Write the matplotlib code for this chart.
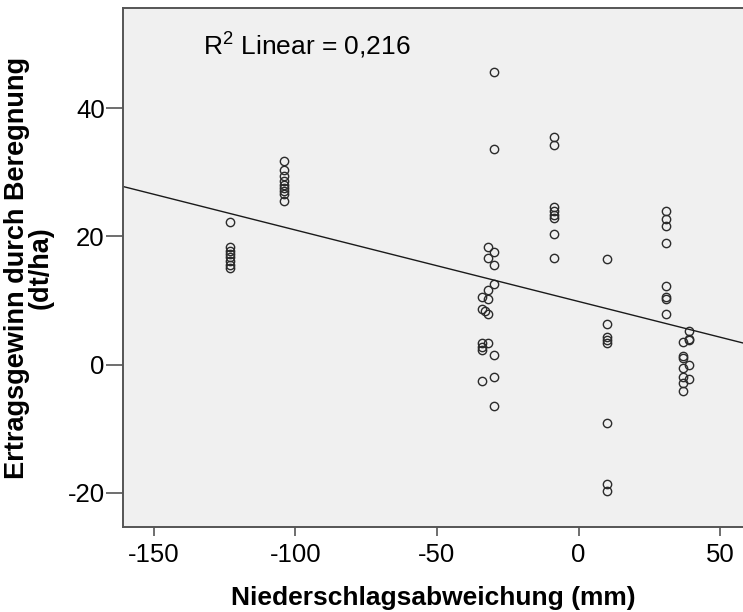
import numpy as np
import matplotlib
matplotlib.use('Agg')
import matplotlib.pyplot as plt

plt.rcParams['font.family'] = ['Liberation Sans', 'DejaVu Sans']
plt.rcParams['mathtext.default'] = 'regular'

# Niederschlagsabweichung (mm) -> Ertragsgewinn (dt/ha)
x_m123 = [-123] * 8
y_m123 = [22.2, 18.4, 17.8, 17.3, 16.8, 16.2, 15.6, 15.0]
x_m104 = [-104] * 9
y_m104 = [31.8, 30.4, 29.4, 28.7, 28.1, 27.6, 27.1, 26.6, 25.6]
x_m34 = [-34] * 6
y_m34 = [10.5, 8.6, 3.4, 2.8, 2.2, -2.5]
x_m33 = [-33]
y_m33 = [8.3]
x_m32 = [-32] * 6
y_m32 = [18.4, 16.6, 11.7, 10.3, 7.9, 3.3]
x_m30 = [-30] * 8
y_m30 = [45.7, 33.6, 17.6, 15.6, 12.6, 1.5, -1.9, -6.4]
x_m8 = [-8.5] * 8
y_m8 = [35.5, 34.3, 24.6, 24.0, 23.4, 22.8, 20.3, 16.6]
x_10 = [10] * 8
y_10 = [16.5, 6.35, 4.3, 3.85, 3.3, -9.1, -18.6, -19.7]
x_31 = [31] * 8
y_31 = [23.9, 22.7, 21.6, 18.9, 12.2, 10.6, 10.2, 7.9]
x_37 = [37] * 7
y_37 = [3.6, 1.35, 1.0, -0.6, -1.9, -2.9, -4.2]
x_39 = [39] * 5
y_39 = [5.25, 4.0, 0.0, -2.3, 3.85]

xs = np.array(x_m123 + x_m104 + x_m34 + x_m33 + x_m32 + x_m30 + x_m8 + x_10 + x_31 + x_37 + x_39, float)
ys = np.array(y_m123 + y_m104 + y_m34 + y_m33 + y_m32 + y_m30 + y_m8 + y_10 + y_31 + y_37 + y_39, float)

xticks = [-150, -100, -50, 0, 50]
yticks = [-20, 0, 20, 40]
r2_text = 'R$^2$ Linear = 0,216'

fig = plt.figure(figsize=(7.43, 6.12), dpi=100)
ax = fig.add_axes([122.7 / 743, 1 - 526.7 / 612, 1 - 122.7 / 743, (526.7 - 8.3) / 612])
ax.set_facecolor('#f0f0f0')

ax.plot(xs, ys, linestyle='none', marker='o', ms=6, mfc='none', mec='#2b2b2b', mew=1.0)

# linear fit
slope, icpt = np.polyfit(xs, ys, 1)
xlim = (-161.0, 58.1)
lx = np.array(xlim)
ax.plot(lx, icpt + slope * lx, color='#1a1a1a', lw=1.0)

ax.set_xlim(*xlim)
ax.set_ylim(-25.3, 55.6)
ax.set_xticks(xticks)
ax.set_yticks(yticks)
ax.set_xticklabels([str(t) for t in xticks])
ax.set_yticklabels([str(t) for t in yticks])

for s in ['left', 'bottom', 'top']:
    ax.spines[s].set_color('#555555')
    ax.spines[s].set_linewidth(1.4)
ax.spines['right'].set_visible(False)

ax.tick_params(axis='x', length=6.5, width=1.2, color='#555555', labelsize=18.5, pad=5)
ax.tick_params(axis='y', length=12, width=1.2, color='#555555', labelsize=18.5, pad=1)

ax.set_xlabel('Niederschlagsabweichung (mm)', fontsize=19, fontweight='bold', labelpad=14)
ax.set_ylabel('Ertragsgewinn durch Beregnung\n(dt/ha)', fontsize=19.5, fontweight='bold',
              linespacing=0.88)
ax.yaxis.set_label_coords(-0.112, 0.5)

ax.text(0.129, 0.91, r2_text, transform=ax.transAxes, fontsize=19, va='baseline', ha='left')

fig.savefig('out.png', dpi=100)
